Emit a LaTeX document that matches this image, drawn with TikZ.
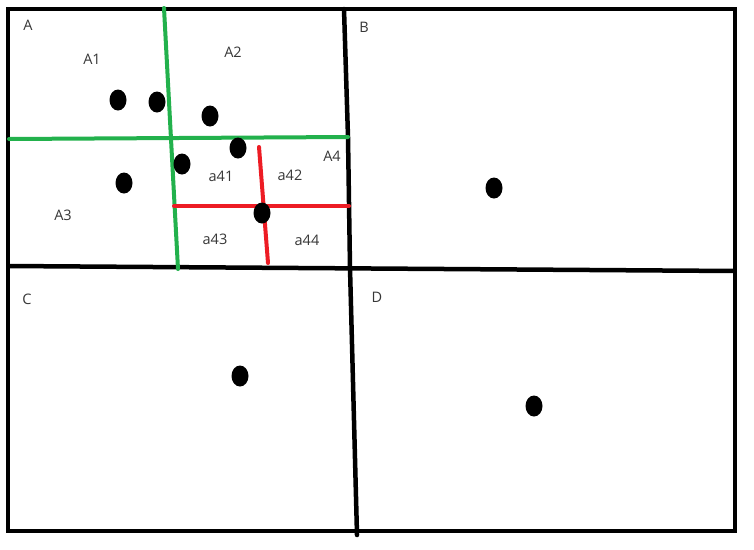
\documentclass[tikz,border=0pt]{standalone}
\usepackage{fontspec}
\setmainfont{Open Sans}
\definecolor{pgreen}{RGB}{34,177,76}
\definecolor{pred}{RGB}{237,28,36}
\definecolor{ltext}{RGB}{55,55,55}
\begin{document}
\begin{tikzpicture}[x=1pt,y=-1pt,
  blackline/.style={draw=black,line width=4.5pt},
  greenline/.style={draw=pgreen,line width=4pt,line cap=round},
  redline/.style={draw=pred,line width=4pt,line cap=round},
  pt/.style={fill=black},
  lbl/.style={font=\fontsize{14.5}{16}\selectfont,text=ltext,inner sep=0pt}]
\useasboundingbox (0,0) rectangle (754,549);
\fill[white] (0,0) rectangle (754,549);
% outer frame
\draw[blackline] (8,9) rectangle (735,531);
% middle lines
\draw[blackline] (8,266) -- (736,271);
\draw[blackline,line cap=round] (344,9) -- (348,137) -- (350,268) -- (357,535);
% green split of A
\draw[greenline] (9,139) -- (348,137);
\draw[greenline] (164,8) -- (171,139) -- (178,269);
% red split of A4
\draw[redline] (174,206) -- (349,206);
\draw[redline] (259,147) -- (268,263);
% points
\foreach \px/\py in {118/100,157/102,210/116,238/148,182/164,124/183,262/213,494/188,240/376,534/406}
  \fill[pt] (\px,\py) ellipse [x radius=8.5pt, y radius=10.5pt];
% labels
\node[lbl] (lA) at (28,25) {A};
\node[lbl] (lA1) at (92,59) {A1};
\node[lbl] (lA2) at (233,52) {A2};
\node[lbl] (lA3) at (63,215) {A3};
\node[lbl] (lA4) at (332,156) {A4};
\node[lbl] (la41) at (221,176) {a41};
\node[lbl] (la42) at (290,175) {a42};
\node[lbl] (la43) at (215,239) {a43};
\node[lbl] (la44) at (307,240) {a44};
\node[lbl] (lB) at (364,27) {B};
\node[lbl] (lC) at (27,299) {C};
\node[lbl] (lD) at (377,297) {D};
\end{tikzpicture}
\end{document}
